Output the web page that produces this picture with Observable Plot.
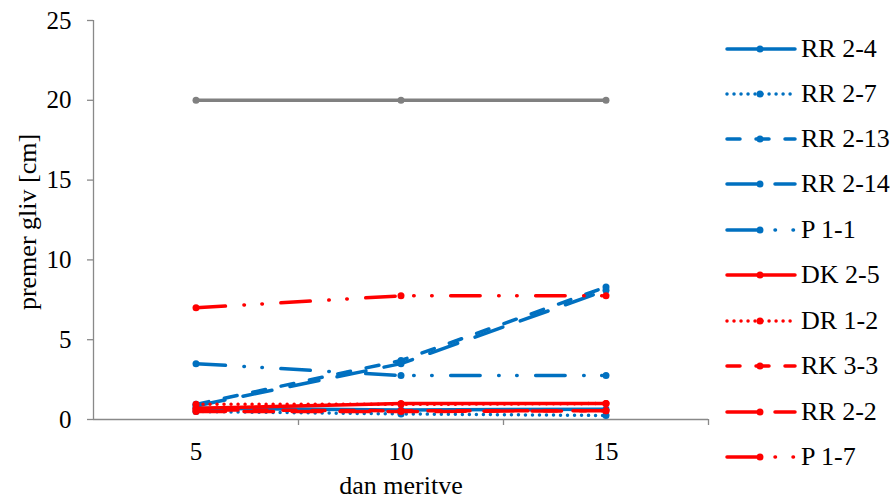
<!DOCTYPE html>
<html>
<head>
<meta charset="utf-8">
<script src="https://cdn.jsdelivr.net/npm/d3@7"></script>
<script src="https://cdn.jsdelivr.net/npm/@observablehq/plot@0.6"></script>
<style>
  html, body { margin: 0; padding: 0; background: #fff; }
  #wrap { position: relative; width: 895px; height: 503px; font-family: "Liberation Serif", "Times New Roman", serif; }
  #legend { position: absolute; left: 0; top: 0; }
  .lg { position: absolute; left: 725px; height: 26px; display: flex; align-items: center; }
  .lg span { font-size: 26px; color: #000; margin-left: 4px; white-space: nowrap; }
</style>
</head>
<body>
<div id="wrap"><div id="chart"></div><div id="legend"></div></div>
<script>
// ---- data ----
const days = [5, 10, 15];
const seriesNames = ["RR 2-4", "RR 2-7", "RR 2-13", "RR 2-14", "P 1-1", "DK 2-5", "DR 1-2", "RK 3-3", "RR 2-2", "P 1-7"];
const rr24  = [0.7, 0.6, 0.65];
const rr27  = [0.5, 0.35, 0.25];
const rr213 = [0.95, 3.7, 8.3];
const rr214 = [0.85, 3.5, 8.1];
const p11   = [3.5, 2.75, 2.75];
const dk25  = [0.7, 1.0, 1.0];
const dr12  = [0.95, 0.95, 1.0];
const rk33  = [0.6, 0.55, 0.55];
const rr22  = [0.5, 0.5, 0.55];
const p17   = [7.0, 7.75, 7.75];
const referenceLine = [20, 20, 20];
const yTicks = [0, 5, 10, 15, 20, 25];
const xLabel = "dan meritve";
const yLabel = "premer gliv [cm]";

// ---- styles ----
const BLUE = "#0070C0", RED = "#FF0000", GRAY = "#808080";
const seriesValues = [rr24, rr27, rr213, rr214, p11, dk25, dr12, rk33, rr22, p17];
const seriesColors = [BLUE, BLUE, BLUE, BLUE, BLUE, RED, RED, RED, RED, RED];
const DOT = "0.01 7", DASH = "13 16", LGDASH = "29.5 18.5", LGDDD = "29.5 18.5 0.5 17.5 0.5 18.5";
const seriesDashes = [null, DOT, DASH, LGDASH, LGDDD, null, DOT, DASH, LGDASH, LGDDD];

const rows = (vals) => days.map((d, i) => ({day: d, value: vals[i]}));

const marks = [];
marks.push(Plot.line(rows(referenceLine), {x: "day", y: "value", stroke: GRAY, strokeWidth: 3.5, strokeLinecap: "round"}));
marks.push(Plot.dot(rows(referenceLine), {x: "day", y: "value", r: 3.5, fill: GRAY}));
seriesNames.forEach((name, k) => {
  const data = rows(seriesValues[k]);
  marks.push(Plot.line(data, {x: "day", y: "value", stroke: seriesColors[k], strokeWidth: 3.5,
    strokeDasharray: seriesDashes[k] || undefined, strokeLinecap: "round", strokeLinejoin: "round"}));
  marks.push(Plot.dot(data, {x: "day", y: "value", r: 3.5, fill: seriesColors[k]}));
});

const AX = "#898989";
const FS = 25;
const chart = Plot.plot({
  width: 895, height: 503,
  marginLeft: 93, marginRight: 187, marginTop: 20, marginBottom: 84,
  style: {fontFamily: "'Liberation Serif', 'Times New Roman', serif", fontSize: FS + "px", color: "#000", background: "#fff", overflow: "visible"},
  x: {type: "linear", domain: [2.5, 17.5]},
  y: {domain: [0, 25]},
  marks: [
    Plot.ruleY([0], {stroke: AX, strokeWidth: 1.3}),
    Plot.ruleX([2.5], {stroke: AX, strokeWidth: 1.3}),
    Plot.axisY({ticks: yTicks, tickSize: 6, tickPadding: 16, stroke: AX, fill: "#000", strokeWidth: 1.3, label: null, fontSize: FS}),
    Plot.axisX({ticks: [7.5, 12.5, 17.5], tickSize: 6, tickFormat: () => "", stroke: AX, strokeWidth: 1.3, label: null}),
    Plot.axisX({ticks: days, tickSize: 0, tickPadding: 23, fill: "#000", label: null, fontSize: FS}),
    Plot.text([xLabel], {text: d => d, frameAnchor: "bottom", textAnchor: "middle", dy: 74, fontSize: 26, fill: "#000"}),
    Plot.text([yLabel], {text: d => d, frameAnchor: "left", textAnchor: "middle", dx: -66, dy: 2, rotate: -90, fontSize: 26, fill: "#000"}),
    ...marks
  ]
});
document.getElementById("chart").appendChild(chart);

// ---- legend ----
const legendY = [49, 94, 139, 184, 230, 275, 321, 366, 412, 457];
const legend = document.getElementById("legend");
seriesNames.forEach((name, k) => {
  const div = document.createElement("div");
  div.className = "lg";
  div.style.top = (legendY[k] - 13) + "px";
  const dash = seriesDashes[k] ? `stroke-dasharray="${seriesDashes[k]}"` : "";
  div.innerHTML = `<svg width="72" height="26"><line x1="2" y1="13" x2="70" y2="13" stroke="${seriesColors[k]}" stroke-width="3.5" stroke-linecap="round" ${dash}/><circle cx="35" cy="13" r="3.5" fill="${seriesColors[k]}"/></svg><span>${name}</span>`;
  legend.appendChild(div);
});
</script>
</body>
</html>
